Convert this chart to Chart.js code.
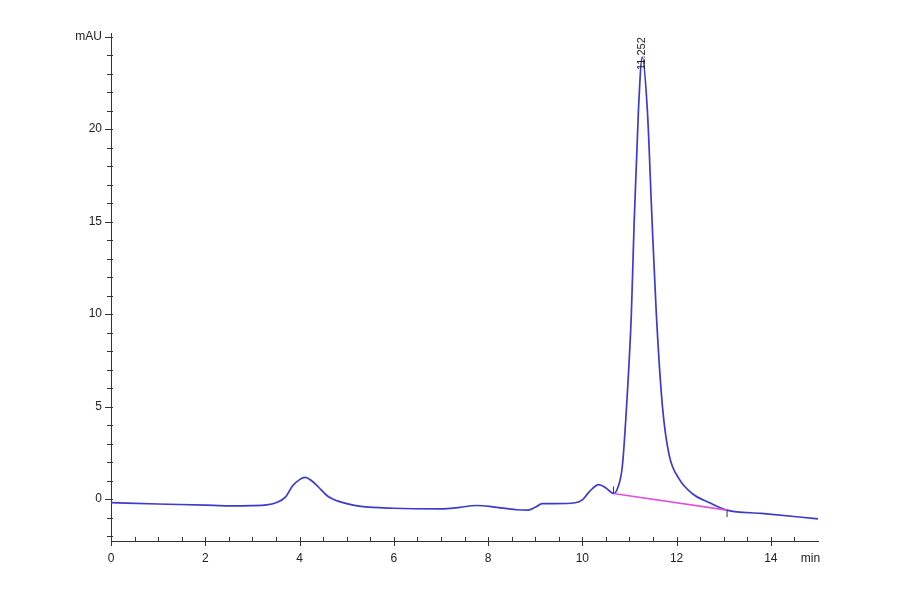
<!DOCTYPE html>
<html>
<head>
<meta charset="utf-8">
<script src="https://cdn.jsdelivr.net/npm/chart.js@4/dist/chart.umd.min.js"></script>
<style>
  html, body { margin: 0; padding: 0; background: #fff; }
  #wrap { width: 900px; height: 594px; }
</style>
</head>
<body>
<div id="wrap"><canvas id="chromChart"></canvas></div>
<script>
// retention time (min) and signal (mAU)
const times = [0, 1, 2, 2.5, 3.0, 3.3, 3.5, 3.7, 3.85, 4.0, 4.12, 4.25, 4.4, 4.6, 4.8, 5.0, 5.3, 6.0, 7.0, 7.4, 7.75, 8.1, 8.6, 8.85, 9.0, 9.15, 9.4, 9.85, 10.0, 10.15, 10.35, 10.5, 10.66, 10.75, 10.85, 10.95, 11.04, 11.1, 11.19, 11.27, 11.38, 11.48, 11.57, 11.7, 11.84, 12.05, 12.33, 12.7, 13.07, 13.8, 15.0];
const signal = [-0.2, -0.27, -0.33, -0.37, -0.36, -0.32, -0.2, 0.1, 0.7, 1.05, 1.17, 1.0, 0.65, 0.15, -0.1, -0.25, -0.4, -0.5, -0.53, -0.45, -0.35, -0.42, -0.58, -0.6, -0.45, -0.25, -0.25, -0.2, -0.05, 0.4, 0.78, 0.6, 0.3, 0.6, 1.8, 5.5, 10.0, 15.0, 21.0, 23.9, 21.0, 15.0, 10.0, 5.0, 2.4, 1.1, 0.3, -0.2, -0.6, -0.78, -1.07];

// integration baseline under the main peak
const baseTimes = [10.66, 13.07];
const baseSignal = [0.3, -0.6];

const peakTime = 11.27;
const peakHeight = 23.9;
const peakLabel = '11.252';

// axis ticks (marks) and labelled positions
const xTicks = [];
for (let t = 0; t <= 14.5; t += 0.5) xTicks.push(t);
const xLabels = [0, 2, 4, 6, 8, 10, 12, 14];
const xUnitAt = 14.84;
const yTicks = [];
for (let v = -2; v <= 25; v++) yTicks.push(v);

const FONT = '"Liberation Sans", Arial, sans-serif';

// tick marks and peak annotation
const marksPlugin = {
    id: 'marks',
    afterDraw(chart) {
        const ctx = chart.ctx;
        const x = chart.scales.x;
        const y = chart.scales.y;
        const area = chart.chartArea;
        ctx.save();
        ctx.strokeStyle = '#333';
        ctx.lineWidth = 1;
        ctx.beginPath();
        xTicks.forEach(t => {
            const px = Math.round(x.getPixelForValue(t)) + 0.5;
            const major = t % 2 === 0;
            ctx.moveTo(px, area.bottom - 4);
            ctx.lineTo(px, area.bottom + (major ? 5 : 1));
        });
        yTicks.forEach(v => {
            const py = Math.round(y.getPixelForValue(v)) + 0.5;
            const major = v % 5 === 0;
            ctx.moveTo(area.left - (major ? 6 : 4), py);
            ctx.lineTo(area.left + 2, py);
        });
        // baseline start / end markers
        const b0x = x.getPixelForValue(baseTimes[0]);
        const b0y = y.getPixelForValue(baseSignal[0]);
        ctx.moveTo(b0x, b0y - 7);
        ctx.lineTo(b0x, b0y);
        const b1x = x.getPixelForValue(baseTimes[1]);
        const b1y = y.getPixelForValue(baseSignal[1]);
        ctx.moveTo(b1x, b1y);
        ctx.lineTo(b1x, b1y + 7);
        ctx.stroke();

        // peak retention time label, rotated
        const px = x.getPixelForValue(peakTime);
        const py = y.getPixelForValue(peakHeight);
        ctx.translate(px, py + 13);
        ctx.rotate(-Math.PI / 2);
        ctx.fillStyle = '#222';
        ctx.font = '11px ' + FONT;
        ctx.textAlign = 'left';
        ctx.textBaseline = 'middle';
        ctx.fillText(peakLabel, 0, 0);
        ctx.restore();
    }
};

const ctx = document.getElementById('chromChart').getContext('2d');
new Chart(ctx, {
    type: 'scatter',
    data: {
        datasets: [{
            label: 'Signal',
            data: times.map((t, i) => ({ x: t, y: signal[i] })),
            showLine: true,
            borderColor: '#3b3bd0',
            borderWidth: 1.7,
            pointRadius: 0,
            cubicInterpolationMode: 'monotone',
            order: 2
        }, {
            label: 'Baseline',
            data: baseTimes.map((t, i) => ({ x: t, y: baseSignal[i] })),
            showLine: true,
            borderColor: '#e050e0',
            borderWidth: 1.6,
            pointRadius: 0,
            order: 1
        }]
    },
    options: {
        responsive: true,
        maintainAspectRatio: false,
        animation: false,
        layout: { padding: { left: 0, top: 33, right: 82, bottom: 0 } },
        plugins: {
            legend: { display: false },
            tooltip: { enabled: false }
        },
        scales: {
            x: {
                type: 'linear',
                min: 0,
                max: 15,
                afterBuildTicks: scale => {
                    scale.ticks = xLabels.concat([xUnitAt]).map(v => ({ value: v }));
                },
                afterFit: scale => { scale.height = 53; },
                grid: { display: false, drawTicks: false },
                border: { display: true, color: '#333', width: 1 },
                ticks: {
                    autoSkip: false,
                    maxRotation: 0,
                    padding: 10,
                    color: '#222',
                    font: { family: FONT, size: 12 },
                    callback: v => v === xUnitAt ? 'min' : String(v)
                }
            },
            y: {
                type: 'linear',
                min: -2.27,
                max: 25.2,
                afterBuildTicks: scale => { scale.ticks = yTicks.map(v => ({ value: v })); },
                afterFit: scale => { scale.width = 111; },
                grid: { display: false, drawTicks: false },
                border: { display: true, color: '#333', width: 1 },
                ticks: {
                    autoSkip: false,
                    padding: 9,
                    color: '#222',
                    font: { family: FONT, size: 12 },
                    callback: v => v === 25 ? 'mAU' : (v % 5 === 0 ? String(v) : '')
                }
            }
        }
    },
    plugins: [marksPlugin]
});
</script>
</body>
</html>
